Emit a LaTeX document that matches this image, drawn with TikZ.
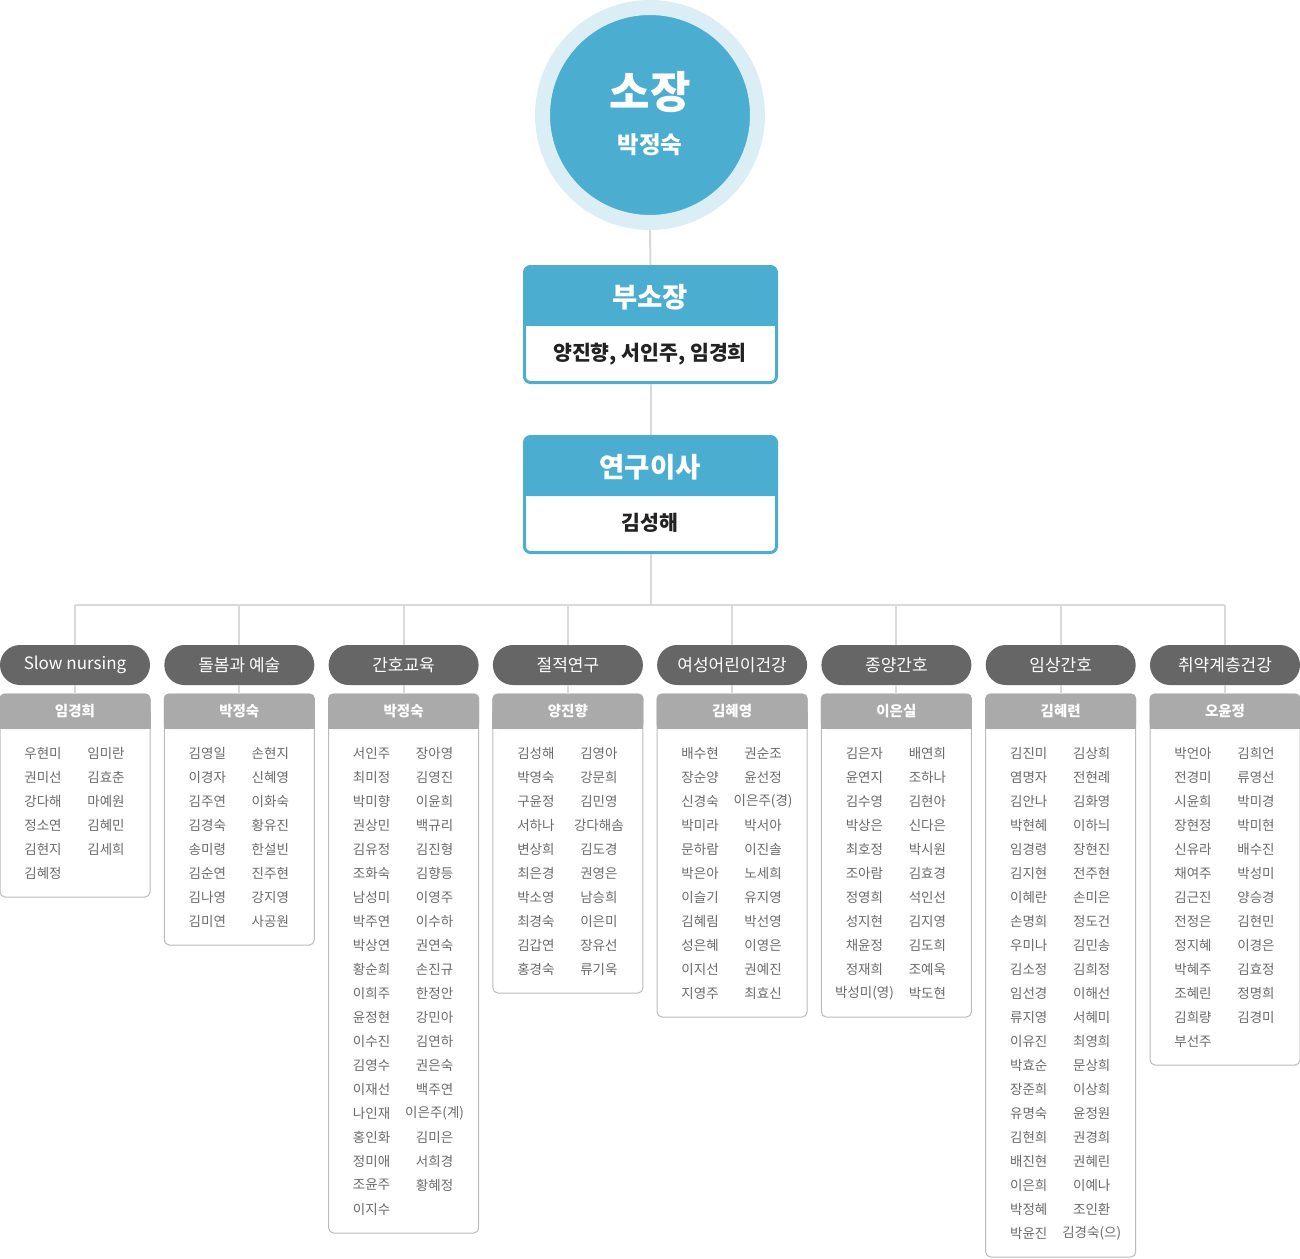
\documentclass[tikz,border=0pt]{standalone}
\usepackage{fontspec}
\setmainfont{Noto Sans CJK KR}
\definecolor{cblue}{HTML}{4BADCF}
\definecolor{cring}{HTML}{DCEEF5}
\definecolor{cpill}{HTML}{666666}
\definecolor{chead}{HTML}{AAAAAA}
\definecolor{cborder}{HTML}{BBBBBB}
\definecolor{cname}{HTML}{6B6B6B}
\definecolor{cline}{HTML}{D9D9D9}
\definecolor{cdark}{HTML}{222222}
\newcommand\fsz[1]{\fontsize{#1}{#1}\selectfont}
\newcommand\team[6]{%
  \node[pill] (p#1) at (#2,665) {#3};
  \pgfmathsetmacro\tbot{753+(#5-1)*24+24}
  \pgfmathsetmacro\tmid{(694+\tbot)/2}
  \pgfmathsetmacro\tmh{\tbot-694}
  \node[teambody, minimum height=\tmh pt] (b#1) at (#2,\tmid) {};
  \fill[chead, rounded corners=5pt] (#2-75.5,693.5) rectangle (#2+75.5,729);
  \fill[chead] (#2-75.5,712) rectangle (#2+75.5,729);
  \node[headtext] (h#1) at (#2,711.5) {#4};
  \draw[conn] (p#1.south) -- (b#1.north);
  \draw[conn] (p#1.north |- busL) -- (p#1.north);
  \foreach \a/\b [count=\i from 0] in {#6} {
    \node[nametext] (n#1-\i-l) at (#2-32,753+24*\i) {\a};
    \node[nametext] (n#1-\i-r) at (#2+31,753+24*\i) {\b};
  }
}
\begin{document}
\begin{tikzpicture}[x=1pt,y=-1pt,
  conn/.style={draw=cline, line width=2pt},
  pill/.style={rectangle, rounded corners=20pt, fill=cpill, minimum width=150pt, minimum height=40pt, inner sep=0pt, text=white, font=\fsz{17}},
  teambody/.style={rectangle, draw=cborder, line width=1pt, fill=white, rounded corners=5pt, minimum width=150pt, inner sep=0pt},
  headtext/.style={text=white, font=\fsz{14.5}\bfseries, inner sep=0pt},
  nametext/.style={text=cname, font=\fsz{13.5}, inner sep=0pt},
  topbox/.style={rectangle, draw=cblue, line width=3pt, fill=white, rounded corners=6pt, minimum width=252pt, minimum height=116pt, inner sep=0pt},
  toptitle/.style={text=white, font=\fsz{27.5}\bfseries, inner sep=0pt},
  topname/.style={text=cdark, font=\fsz{20.5}\bfseries, inner sep=0pt}]
\useasboundingbox[fill=white] (0,0) rectangle (1300,1258);
% director circle
\node[circle, fill=cblue, draw=cring, line width=15pt, minimum size=215pt, inner sep=0pt] (ceo) at (650,115) {};
\node[text=white, font=\fsz{44}\bfseries, inner sep=0pt] (ceot) at (650,92) {소장};
\node[text=white, font=\fsz{23.5}\bfseries, inner sep=0pt] (ceon) at (650,145) {박정숙};
% vice director
\node[topbox] (vb) at (650.5,324.5) {};
\fill[cblue, rounded corners=5pt] (524,266) rectangle (777,326);
\fill[cblue] (524,300) rectangle (777,326);
\node[toptitle] (vbt) at (650,297) {부소장};
\node[topname] (vbn) at (650,354) {양진향, 서인주, 임경희};
% research director
\node[topbox] (rd) at (650.5,494.5) {};
\fill[cblue, rounded corners=5pt] (524,436) rectangle (777,496);
\fill[cblue] (524,470) rectangle (777,496);
\node[toptitle] (rdt) at (650,467) {연구이사};
\node[topname] (rdn) at (650,523) {김성해};
% connectors
\coordinate (busL) at (75,605);
\coordinate (busR) at (1225,605);
\draw[conn] (ceo.south) -- (vb.north);
\draw[conn] (vb.south) -- (rd.north);
\draw[conn] (rd.south) -- (rd.south |- busL);
\draw[conn] (busL) -- (busR);
% teams
\team{1}{75}{Slow nursing}{임경희}{6}{우현미/임미란,권미선/김효춘,강다해/마예원,정소연/김혜민,김현지/김세희,김혜정/{}}
\team{2}{239.3}{돌봄과 예술}{박정숙}{8}{김영일/손현지,이경자/신혜영,김주연/이화숙,김경숙/황유진,송미령/한설빈,김순연/진주현,김나영/강지영,김미연/사공원}
\team{3}{403.6}{간호교육}{박정숙}{20}{서인주/장아영,최미정/김영진,박미향/이윤희,권상민/백규리,김유정/김진형,조화숙/김향등,남성미/이영주,박주연/이수하,박상연/권연숙,황순희/손진규,이희주/한정안,윤정현/강민아,이수진/김연하,김영수/권은숙,이재선/백주연,나인재/이은주(계),홍인화/김미은,정미애/서희경,조윤주/황혜정,이지수/{}}
\team{4}{567.9}{절적연구}{양진향}{10}{김성해/김영아,박영숙/강문희,구윤정/김민영,서하나/강다해솜,변상희/김도경,최은경/권영은,박소영/남승희,최경숙/이은미,김갑연/장유선,홍경숙/류기욱}
\team{5}{732.1}{여성어린이건강}{김혜영}{11}{배수현/권순조,장순양/윤선정,신경숙/이은주(경),박미라/박서아,문하람/이진솔,박은아/노세희,이슬기/유지영,김혜림/박선영,성은혜/이영은,이지선/권예진,지영주/최효신}
\team{6}{896.4}{종양간호}{이은실}{11}{김은자/배연희,윤연지/조하나,김수영/김현아,박상은/신다은,최호정/박시원,조아람/김효경,정영희/석인선,성지현/김지영,채윤정/김도희,정재희/조예욱,박성미(영)/박도현}
\team{7}{1060.7}{임상간호}{김혜련}{21}{김진미/김상희,염명자/전현례,김안나/김화영,박현혜/이하늬,임경령/장현진,김지현/전주현,이혜란/손미은,손명희/정도건,우미나/김민송,김소정/김희정,임선경/이해선,류지영/서혜미,이유진/최영희,박효순/문상희,장준희/이상희,유명숙/윤정원,김현희/권경희,배진현/권혜린,이은희/이예나,박정혜/조인환,박윤진/김경숙(으)}
\team{8}{1225}{취약계층건강}{오윤정}{13}{박언아/김희언,전경미/류영선,시윤희/박미경,장현정/박미현,신유라/배수진,채여주/박성미,김근진/양승경,전정은/김현민,정지혜/이경은,박혜주/김효정,조혜린/정명희,김희량/김경미,부선주/{}}
\end{tikzpicture}
\end{document}
